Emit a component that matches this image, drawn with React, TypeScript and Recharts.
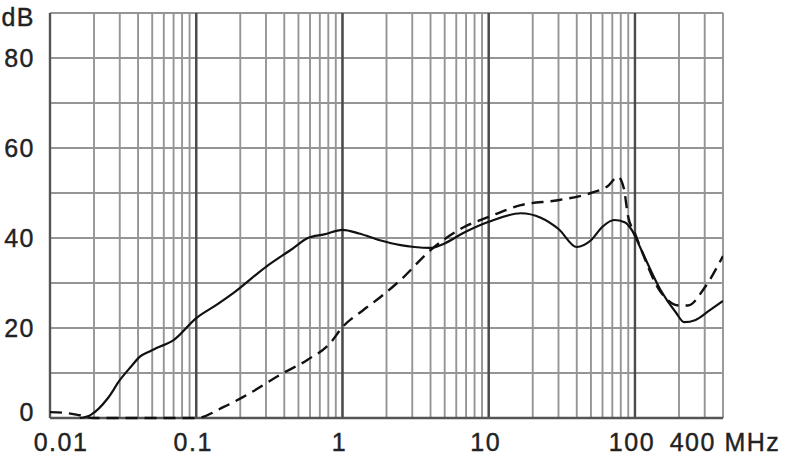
import React from 'react';
import { LineChart, Line, XAxis, YAxis, CartesianGrid, ReferenceLine } from 'recharts';

// frequency in MHz, attenuation in dB
const solidFreq = [0.016, 0.019, 0.025, 0.03, 0.036, 0.041, 0.048, 0.054, 0.07, 0.1, 0.14, 0.18, 0.3, 0.45, 0.58, 0.75, 1, 1.3, 1.8, 2.5, 3.1, 4, 5, 6.7, 10, 16.6, 22.7, 30, 40, 50, 60, 72, 85, 95, 110, 150, 190, 217, 260, 320, 400];
const solidDb = [0, 0.7, 4.5, 8.4, 11.5, 13.6, 14.8, 15.6, 17.3, 22.2, 25.3, 27.8, 33.6, 37.5, 40, 40.8, 41.8, 41, 39.5, 38.4, 38, 37.8, 38.8, 41.1, 43.6, 45.5, 44.5, 42, 38, 39.5, 42.5, 44, 43.5, 41.8, 37.5, 28.4, 23.5, 21.3, 21.8, 23.8, 26];

const dashedFreq = [0.01, 0.013, 0.016, 0.02, 0.03, 0.05, 0.08, 0.1, 0.153, 0.21, 0.394, 0.575, 0.827, 1, 1.39, 1.82, 2.5, 4, 6.74, 10, 16.6, 29.7, 50, 65, 76.5, 84, 89.5, 100, 150, 200, 230, 300, 400];
const dashedDb = [1.3, 1.1, 0.6, 0, 0, 0, 0, 0, 2.4, 4.7, 10, 12.9, 16.7, 20.2, 24, 26.9, 30.7, 37.3, 42.4, 44.7, 47.3, 48.4, 50, 51.5, 53.6, 51, 45, 41, 28, 25, 25, 29, 36];

const gridFreq = [
  0.01, 0.02, 0.03, 0.04, 0.05, 0.06, 0.07, 0.08, 0.09,
  0.1, 0.2, 0.3, 0.4, 0.5, 0.6, 0.7, 0.8, 0.9,
  1, 2, 3, 4, 5, 6, 7, 8, 9,
  10, 20, 30, 40, 50, 60, 70, 80, 90,
  100, 200, 300, 400,
];
const decadeFreq = [0.1, 1, 10, 100];
const labelFreq = [0.01, 0.1, 1, 10, 100, 400];
const labelText = ['0.01', '0.1', '1', '10', '100', '400 MHz'];

const yTicks = [0, 10, 20, 30, 40, 50, 60, 70, 80, 90];
const yLabels = ['0', '', '20', '', '40', '', '60', '', '80', 'dB'];

const solidData = solidFreq.map((f, i) => ({ f, db: solidDb[i] }));
const dashedData = dashedFreq.map((f, i) => ({ f, db: dashedDb[i] }));

const FONT = '"Liberation Sans", Arial, sans-serif';

const XTick = ({ x, y, payload }: any) => {
  const idx = labelFreq.findIndex((v) => Math.abs(v - payload.value) < 1e-9);
  if (idx < 0) return null;
  const dx = idx === 0 ? 11 : idx === labelFreq.length - 1 ? 2 : -3;
  return (
    <text
      x={x + dx}
      y={y + 25}
      textAnchor="middle"
      fontSize={25}
      letterSpacing={1.5}
      fontFamily={FONT}
      fill="#222"
      stroke="#222"
      strokeWidth={0.4}
    >
      {labelText[idx]}
    </text>
  );
};

const YTick = ({ x, y, payload }: any) => {
  const idx = yTicks.indexOf(payload.value);
  const label = yLabels[idx];
  if (!label) return null;
  const dy = payload.value === 0 ? -6 : payload.value === 90 ? 4 : 0;
  return (
    <text
      x={x - 7}
      y={y + dy}
      dy="0.35em"
      textAnchor="end"
      fontSize={25}
      letterSpacing={1.5}
      fontFamily={FONT}
      fill="#222"
      stroke="#222"
      strokeWidth={0.4}
    >
      {label}
    </text>
  );
};

export default function App() {
  return (
    <div style={{ position: 'absolute', left: 0, top: 0, width: 790, height: 460, background: '#fff' }}>
      <LineChart width={790} height={460} margin={{ top: 13, right: 67, left: 0, bottom: 0 }}>
        <CartesianGrid stroke="#959595" strokeWidth={1.9} />
        <XAxis
          dataKey="f"
          type="number"
          scale="log"
          domain={[0.01, 400]}
          ticks={gridFreq}
          interval={0}
          allowDataOverflow
          axisLine={false}
          tickLine={false}
          height={42}
          tick={<XTick />}
        />
        <YAxis
          type="number"
          domain={[0, 90]}
          ticks={yTicks}
          interval={0}
          axisLine={false}
          tickLine={false}
          width={50}
          tick={<YTick />}
        />
        {decadeFreq.map((f) => (
          <ReferenceLine key={f} x={f} stroke="#4a4a4a" strokeWidth={2.4} />
        ))}
        <ReferenceLine x={0.01} stroke="#555" strokeWidth={2.4} />
        <ReferenceLine y={0} stroke="#555" strokeWidth={2.4} />
        <Line
          data={dashedData}
          dataKey="db"
          type="monotone"
          stroke="#111"
          strokeWidth={2.4}
          strokeDasharray="12 7"
          dot={false}
          isAnimationActive={false}
        />
        <Line
          data={solidData}
          dataKey="db"
          type="monotone"
          stroke="#111"
          strokeWidth={2.2}
          dot={false}
          isAnimationActive={false}
        />
      </LineChart>
    </div>
  );
}
